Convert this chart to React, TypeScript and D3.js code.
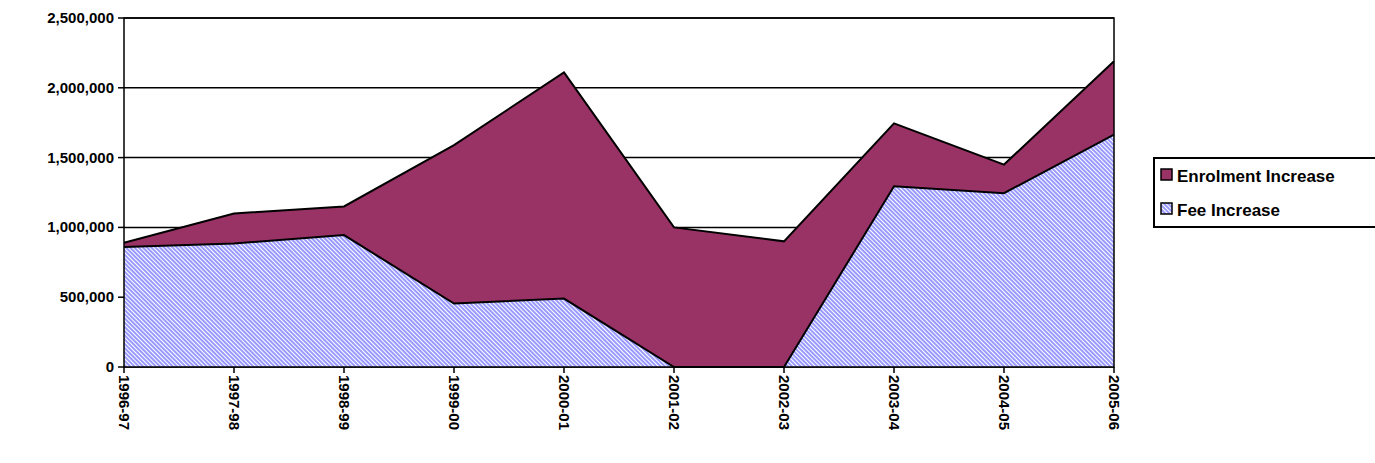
import React from "react"
import * as d3 from "d3"

const years = ["1996-97","1997-98","1998-99","1999-00","2000-01","2001-02","2002-03","2003-04","2004-05","2005-06"]
const feeIncrease = [860000, 885000, 945000, 455000, 490000, 0, 0, 1295000, 1245000, 1665000]
const totalIncrease = [890000, 1100000, 1150000, 1590000, 2110000, 1000000, 900000, 1745000, 1450000, 2190000]
const yTicks = [0, 500000, 1000000, 1500000, 2000000, 2500000]

const L = 124, R = 1114, T = 18, B = 367
const FONT = "Liberation Sans, Arial, sans-serif"

export default function App() {
  const x = d3.scalePoint<string>().domain(years).range([L, R])
  const y = d3.scaleLinear().domain([0, 2500000]).range([B, T])
  const idx = years.map((_, i) => i)
  const feeArea = d3.area<number>().x((i) => x(years[i])!).y0(B).y1((i) => y(feeIncrease[i]))
  const enrolArea = d3.area<number>().x((i) => x(years[i])!).y0((i) => y(feeIncrease[i])).y1((i) => y(totalIncrease[i]))
  const feeLine = d3.line<number>().x((i) => x(years[i])!).y((i) => y(feeIncrease[i]))
  const totLine = d3.line<number>().x((i) => x(years[i])!).y((i) => y(totalIncrease[i]))
  const fmt = d3.format(",")

  return (
    <svg width={1375} height={463} style={{ position: "absolute", left: 0, top: 0, fontFamily: FONT }}>
      <defs>
        <pattern id="fee" width={3} height={3} patternUnits="userSpaceOnUse" patternTransform="rotate(-45)">
          <rect width={3} height={3} fill="#ffffff" />
          <rect width={2} height={3} fill="#9999ff" />
        </pattern>
      </defs>
      <rect x={0} y={0} width={1375} height={463} fill="#fff" />
      {yTicks.map((t) => (
        <g key={t}>
          <line x1={L} x2={R} y1={y(t)} y2={y(t)} stroke="#000" strokeWidth={1.5} />
          <line x1={L - 6} x2={L} y1={y(t)} y2={y(t)} stroke="#000" strokeWidth={1.5} />
          <text x={L - 10} y={y(t) + 5} textAnchor="end" fontSize={15} fontWeight="bold">{fmt(t)}</text>
        </g>
      ))}
      <path d={enrolArea(idx)!} fill="#993366" />
      <path d={feeArea(idx)!} fill="url(#fee)" />
      <path d={totLine(idx)!} fill="none" stroke="#000" strokeWidth={2} />
      <path d={feeLine(idx)!} fill="none" stroke="#000" strokeWidth={2} />
      <rect x={L} y={T} width={R - L} height={B - T} fill="none" stroke="#000" strokeWidth={1.5} />
      {years.map((yr) => (
        <g key={yr}>
          <line x1={x(yr)!} x2={x(yr)!} y1={B} y2={B + 6} stroke="#000" strokeWidth={1.5} />
          <text transform={`translate(${x(yr)! - 5},${B + 8}) rotate(90)`} fontSize={15} fontWeight="bold">{yr}</text>
        </g>
      ))}
      <rect x={1154} y={158} width={230} height={69} fill="#fff" stroke="#000" strokeWidth={2} />
      <rect x={1161} y={169} width={11} height={11} fill="#993366" stroke="#000" strokeWidth={1.5} />
      <text x={1177} y={182} fontSize={17} fontWeight="bold">Enrolment Increase</text>
      <rect x={1161} y={203} width={11} height={11} fill="url(#fee)" stroke="#000" strokeWidth={1.5} />
      <text x={1177} y={216} fontSize={17} fontWeight="bold">Fee Increase</text>
    </svg>
  )
}
